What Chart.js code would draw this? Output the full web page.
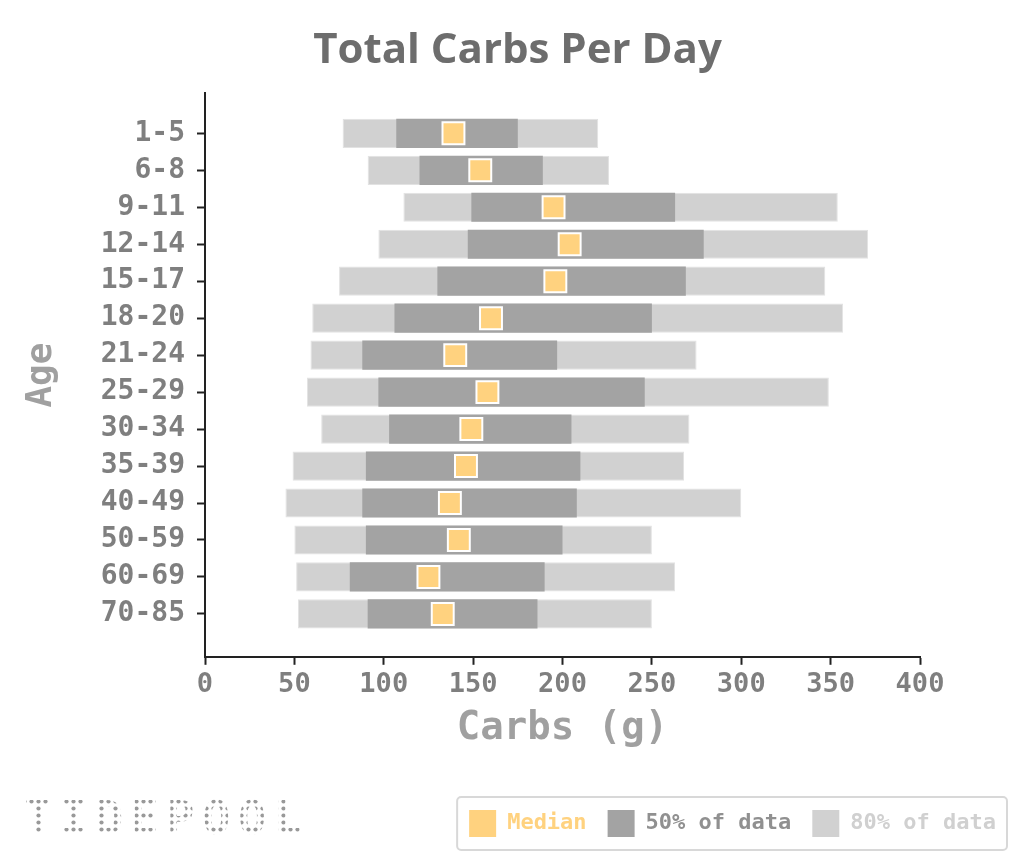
<!DOCTYPE html>
<html>
<head>
<meta charset="utf-8">
<script src="https://cdn.jsdelivr.net/npm/chart.js@4/dist/chart.umd.min.js"></script>
<style>
  body { margin: 0; background: #fff; }
  #wrap { width: 1024px; height: 865px; position: relative; }
</style>
</head>
<body>
<div id="wrap"><canvas id="carbs"></canvas></div>
<script>
// data
const ages = ['1-5', '6-8', '9-11', '12-14', '15-17', '18-20', '21-24', '25-29', '30-34', '35-39', '40-49', '50-59', '60-69', '70-85'];
const p10 = [77, 91, 111, 97, 75, 60, 59, 57, 65, 49, 45, 50, 51, 52];
const p25 = [107, 120, 149, 147, 130, 106, 88, 97, 103, 90, 88, 90, 81, 91];
const medians = [139, 154, 195, 204, 196, 160, 140, 158, 149, 146, 137, 142, 125, 133];
const p75 = [175, 189, 263, 279, 269, 250, 197, 246, 205, 210, 208, 200, 190, 186];
const p90 = [220, 226, 354, 371, 347, 357, 275, 349, 271, 268, 300, 250, 263, 250];
const xTicks = [0, 50, 100, 150, 200, 250, 300, 350, 400];

const MONO = "'DejaVu Sans Mono', monospace";
const ORANGE = '#ffd27f';
const DARK = '#a3a3a3';
const LIGHT = '#d1d1d1';

// legend frame + dotted logo
const extras = {
  id: 'extras',
  afterDraw(chart) {
    const ctx = chart.ctx;
    const boxes = chart.legend.legendHitBoxes;
    if (boxes && boxes.length) {
      let l = Infinity, r = -Infinity, t = Infinity, b = -Infinity;
      boxes.forEach(h => {
        l = Math.min(l, h.left); r = Math.max(r, h.left + h.width);
        t = Math.min(t, h.top); b = Math.max(b, h.top + h.height);
      });
      ctx.save();
      ctx.strokeStyle = '#d8d8d8';
      ctx.lineWidth = 2;
      ctx.beginPath();
      ctx.roundRect(l - 12, t - 13, r - l + 23, b - t + 26, 4);
      ctx.stroke();
      ctx.restore();
    }

    // logo
    const pc = document.createElement('canvas');
    pc.width = 7; pc.height = 7;
    const p = pc.getContext('2d');
    p.fillStyle = '#999999';
    p.beginPath(); p.arc(3.5, 3.5, 2.1, 0, Math.PI * 2); p.fill();
    ctx.save();
    ctx.font = "bold 46px 'DejaVu Sans Mono'";
    ctx.letterSpacing = '8px';
    ctx.textBaseline = 'middle';
    ctx.fillStyle = ctx.createPattern(pc, 'repeat');
    ctx.fillText('TIDEPOOL', 24, 822);
    ctx.restore();
  }
};

const config = {
  type: 'bar',
  data: {
    datasets: [
      {
        type: 'line',
        label: 'Median',
        data: medians.map((m, i) => ({ x: m, y: i })),
        showLine: false,
        pointStyle: 'rect',
        pointRadius: 15.5,
        pointHoverRadius: 15.5,
        backgroundColor: ORANGE,
        borderColor: '#ffffff',
        pointBorderWidth: 2,
        order: 0
      },
      {
        label: '50% of data',
        data: ages.map((a, i) => ({ x: [p25[i], p75[i]], y: i })),
        backgroundColor: DARK,
        grouped: false,
        barPercentage: 0.79,
        categoryPercentage: 1,
        order: 1
      },
      {
        label: '80% of data',
        data: ages.map((a, i) => ({ x: [p10[i], p90[i]], y: i })),
        backgroundColor: LIGHT,
        borderColor: '#e2e2e2',
        borderWidth: 1,
        borderSkipped: false,
        grouped: false,
        barPercentage: 0.79,
        categoryPercentage: 1,
        order: 2
      }
    ]
  },
  options: {
    indexAxis: 'y',
    responsive: true,
    maintainAspectRatio: false,
    animation: false,
    layout: { padding: { left: 18, right: 7, top: 14, bottom: 18 } },
    scales: {
      x: {
        type: 'linear',
        min: 0,
        max: 400,
        afterBuildTicks: s => { s.ticks = xTicks.map(v => ({ value: v })); },
        grid: { drawOnChartArea: false, tickLength: 8, tickColor: '#222', tickWidth: 2 },
        border: { color: '#222', width: 2 },
        ticks: { color: '#7f7f7f', font: { family: MONO, size: 27, weight: 'bold' }, padding: 4 },
        title: {
          display: true, text: 'Carbs (g)', color: '#a0a0a0',
          font: { family: MONO, size: 39, weight: 'bold' },
          padding: { top: 0, bottom: 37 }
        }
      },
      y: {
        type: 'linear',
        reverse: true,
        offset: false,
        min: -1.08,
        max: 14.16,
        afterBuildTicks: s => { s.ticks = ages.map((a, i) => ({ value: i })); },
        afterFit: s => { s.width = 187; },
        grid: { drawOnChartArea: false, offset: false, tickLength: 8, tickColor: '#222', tickWidth: 2 },
        border: { color: '#222', width: 2 },
        ticks: {
          color: '#7f7f7f', font: { family: MONO, size: 28, weight: 'bold' }, padding: 12,
          callback: v => ages[v] || ''
        },
        title: {
          display: true, text: 'Age', color: '#a0a0a0',
          font: { family: MONO, size: 36, weight: 'bold' },
          padding: { top: 2, bottom: 0 }
        }
      },
      spacer: {
        type: 'linear',
        position: 'right',
        display: true,
        grid: { display: false },
        border: { display: false },
        ticks: { display: false },
        afterFit: s => { s.width = 97; }
      }
    },
    plugins: {
      title: {
        display: true,
        text: 'Total Carbs Per Day',
        color: '#6d6d6d',
        font: { family: "'Open Sans', sans-serif", size: 42, weight: 'bold' },
        padding: { top: 12, bottom: 17 }
      },
      legend: {
        position: 'bottom',
        align: 'end',
        labels: {
          boxWidth: 27,
          boxHeight: 27,
          padding: 21,
          font: { family: MONO, size: 22, weight: 'bold' },
          generateLabels: chart => {
            const items = Chart.defaults.plugins.legend.labels.generateLabels(chart);
            const colors = [ORANGE, '#909090', '#d0d0d0'];
            const fills = [ORANGE, DARK, LIGHT];
            return items.map(it => Object.assign(it, {
              fillStyle: fills[it.datasetIndex],
              fontColor: colors[it.datasetIndex],
              lineWidth: 0,
              strokeStyle: 'rgba(0,0,0,0)'
            }));
          }
        }
      },
      tooltip: { enabled: false }
    }
  },
  plugins: [extras]
};

// render
var graficoCarbs = new Chart(document.getElementById('carbs'), config);
</script>
</body>
</html>
